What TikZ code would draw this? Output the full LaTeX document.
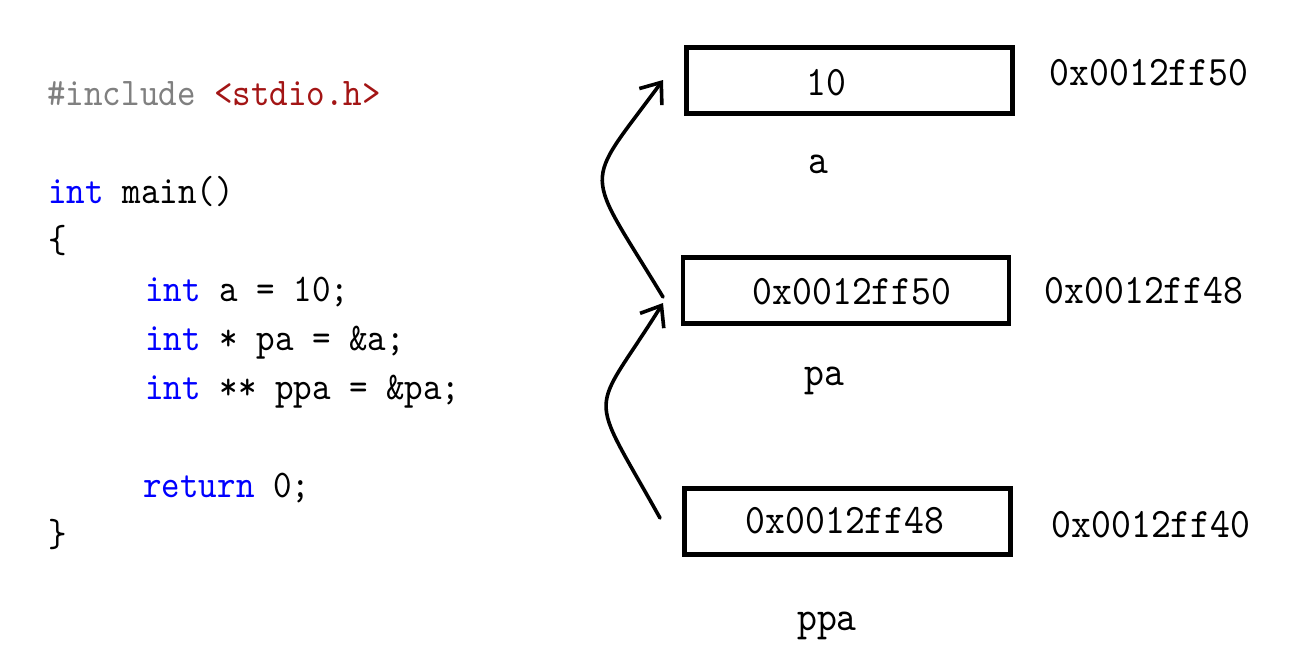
\documentclass[tikz,border=0pt]{standalone}
\usepackage{fontspec}
\usepackage{tikz}
\usetikzlibrary{arrows.meta}
\newfontfamily\codefont{lmmono10-regular.otf}[FakeStretch=0.9]
\definecolor{kwblue}{RGB}{0,0,255}
\definecolor{ppgray}{RGB}{128,128,128}
\definecolor{strred}{RGB}{163,21,21}

\begin{document}
\begin{tikzpicture}[
    x=0.5pt, y=-0.5pt,
    every node/.style={inner sep=0pt},
    code/.style={anchor=base west, font=\codefont\fontsize{19.6}{24}\selectfont},
    cell/.style={rectangle, draw=black, line width=2.3pt,
        minimum width=163pt, minimum height=33pt},
    val/.style={anchor=base, font=\codefont\fontsize{21}{24}\selectfont},
    ptrarrow/.style={-{Straight Barb[length=9pt,width=14pt]},
        line width=1.8pt, line cap=round},
]
\useasboundingbox (0,0) rectangle (1300,654);

% ===== LEFT: source code =====
\node[code] (l1) at (47,105)  {\textcolor{ppgray}{\#include} \textcolor{strred}{<stdio.h>}};
\node[code] (l2) at (48,203)  {\textcolor{kwblue}{int} main()};
\node[code] (l3) at (48,252)  {\{};
\node[code] (l4) at (145,301) {\textcolor{kwblue}{int} a = 10;};
\node[code] (l5) at (145,350) {\textcolor{kwblue}{int} * pa = \&a;};
\node[code] (l6) at (145,399) {\textcolor{kwblue}{int} ** ppa = \&pa;};
\node[code] (l7) at (143,497) {\textcolor{kwblue}{return} 0;};
\node[code] (l8) at (48,546)  {\}};

% ===== RIGHT: memory cells =====
\node[cell] (a)   at (849.5,80.5)  {};
\node[cell] (pa)  at (846,290.5)   {};
\node[cell] (ppa) at (847.5,521.5) {};

% contents
\node[val] (aval)   at (826,95)  {10};
\node[val] (paval)  at (852,304) {0x0012ff50};
\node[val] (ppaval) at (845,533) {0x0012ff48};

% variable names below the cells
\node[val] (aname)   at (818,173) {a};
\node[val] (paname)  at (824,385) {pa};
\node[val] (ppaname) at (827,630) {ppa};

% addresses to the right
\node[val] (aaddr)   at (1149,85)  {0x0012ff50};
\node[val] (paaddr)  at (1144,303) {0x0012ff48};
\node[val] (ppaaddr) at (1151,537) {0x0012ff40};

% ===== pointer arrows =====
\coordinate (ppaout) at (660,518);
\coordinate (pain)   at (663,303);
\coordinate (paout)  at (663,297);
\coordinate (ain)    at (663,80);

\draw[ptrarrow] (ppaout) .. controls (586,385) and (590,420) .. (pain);
\draw[ptrarrow] (paout) .. controls (583,165) and (582,190) .. (ain);

\end{tikzpicture}
\end{document}
